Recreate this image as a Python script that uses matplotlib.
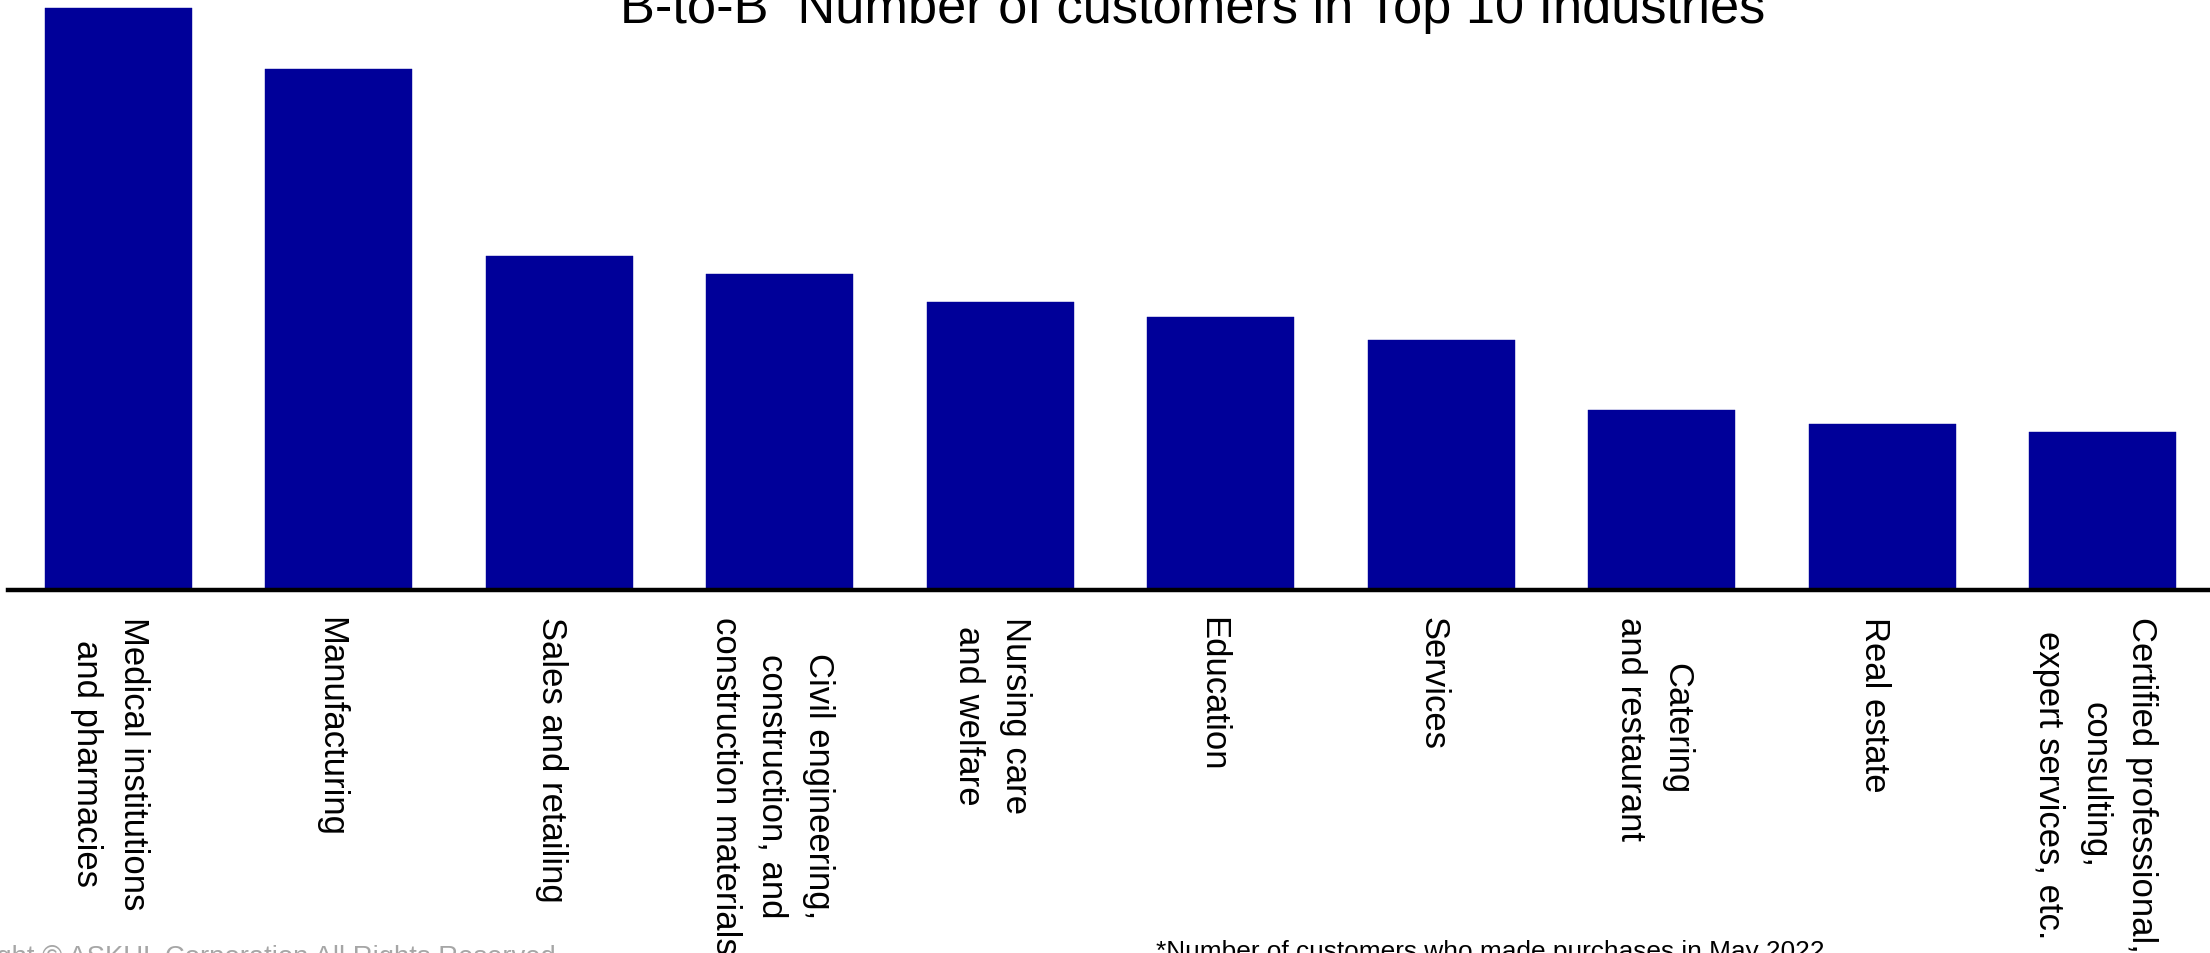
import matplotlib
matplotlib.use("Agg")
import matplotlib.pyplot as plt
import matplotlib.font_manager as fm
from matplotlib.transforms import ScaledTranslation

# ---- data ----
industries = [
    "Medical institutions\nand pharmacies",
    "Manufacturing",
    "Sales and retailing",
    "Civil engineering,\nconstruction, and\nconstruction materials",
    "Nursing care\nand welfare",
    "Education",
    "Services",
    "Catering\nand restaurant",
    "Real estate",
    "Certified professional,\nconsulting,\nexpert services, etc.",
]
customers = [582, 521, 334, 315.5, 288, 272.5, 249.5, 179.5, 165.5, 157.5]

title_text = "B-to-B  Number of customers in Top 10 Industries"
footnote_text = "*Number of customers who made purchases in May 2022"
copyright_text = "Copyright \u00a9 ASKUL Corporation All Rights Reserved."


def has_font(name):
    try:
        fm.findfont(fm.FontProperties(family=name), fallback_to_default=False)
        return True
    except Exception:
        return False


narrow = has_font("Liberation Sans Narrow")
if narrow:
    cond_family = ["Liberation Sans Narrow", "DejaVu Sans"]
    title_size, foot_size = 46, 23
else:
    cond_family = ["Liberation Sans", "DejaVu Sans"]
    title_size, foot_size = 37.7, 18.9

plt.rcParams["font.family"] = ["Liberation Sans", "DejaVu Sans"]

W, H = 2210, 954
fig = plt.figure(figsize=(W / 100, H / 100), dpi=100)
ax_left = 8 / W
ax_bottom = (H - 590.5) / H
ax = fig.add_axes([ax_left, ax_bottom, 2205 / W, 590.5 / H])

x = list(range(len(industries)))
ax.bar(x, customers, width=0.668, color="#000099", edgecolor="#000099", linewidth=0.3)
ax.set_xlim(-0.5, len(industries) - 0.5)
ax.set_ylim(0, 590.5)

for s in ["top", "left", "right"]:
    ax.spines[s].set_visible(False)
ax.spines["bottom"].set_linewidth(3.2)
ax.spines["bottom"].set_color("black")
ax.spines["bottom"].set_zorder(5)
ax.set_yticks([])
ax.set_xticks(x)
ax.set_xticklabels(industries, rotation=270, fontsize=24.9, ha="center", va="top",
                   multialignment="center", linespacing=1.52)
ax.tick_params(axis="x", length=0, pad=19)
shift = ScaledTranslation(-8 / 100, 0, fig.dpi_scale_trans)
for lab in ax.get_xticklabels():
    lab.set_transform(lab.get_transform() + shift)

fig.text(1192.5 / W, 1 - 22.7 / H, title_text, fontsize=title_size, family=cond_family,
         ha="center", va="baseline", color="black")
fig.text(1156 / W, 1 - 959 / H, footnote_text, fontsize=foot_size, family=cond_family,
         ha="left", va="baseline", color="black")
fig.text(-83 / W, 1 - 965 / H, copyright_text, fontsize=19.8, color="#a6a6a6",
         ha="left", va="baseline")

fig.savefig("out.png", dpi=100)
